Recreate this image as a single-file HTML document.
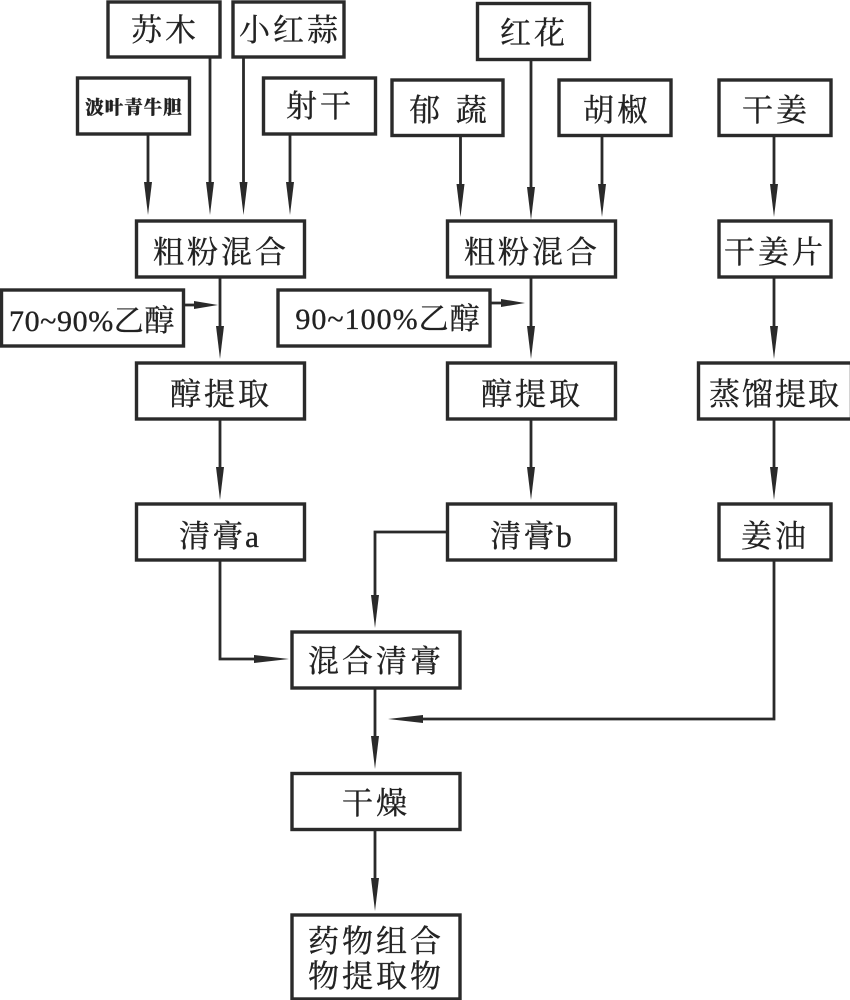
<!DOCTYPE html>
<html>
<head>
<meta charset="utf-8">
<style>
html,body{margin:0;padding:0;background:#fff;width:850px;height:1000px;overflow:hidden}
svg{display:block}
text{font-family:"Liberation Serif","Noto Serif CJK SC",serif;font-size:31px;fill:#222;stroke:#222;stroke-width:.35px;text-anchor:middle;letter-spacing:3px}
rect{fill:#fff;stroke:#2a2a2a;stroke-width:3.4}
.l{fill:none;stroke:#2a2a2a;stroke-width:2.8}
.h{fill:#2a2a2a;stroke:none}
</style>
</head>
<body>
<svg width="850" height="1000" viewBox="0 0 850 1000" xmlns="http://www.w3.org/2000/svg">
<defs>
<polygon id="d" class="h" points="-4,-33 4,-33 0,0"/>
</defs>

<!-- connectors -->
<path class="l" d="M148 134V190M210 57V190M243.5 57V190M290 134V190"/>
<path class="l" d="M460.5 136V190M531 60V195M602 136V190M774 136V190"/>
<path class="l" d="M220 278V335M531 278V335M774 278V335"/>
<path class="l" d="M220 419V470M531 419V470M774 419V470"/>
<path class="l" d="M184 305H200M491 303H505"/>
<path class="l" d="M220 561V659H260"/>
<path class="l" d="M447 532H375V600"/>
<path class="l" d="M774 561V719H420"/>
<path class="l" d="M375 689V740M375 830V880"/>

<!-- arrowheads -->
<use href="#d" x="148" y="215"/><use href="#d" x="210" y="215"/><use href="#d" x="243.5" y="215"/><use href="#d" x="290" y="215"/>
<use href="#d" x="460.5" y="217"/><use href="#d" x="531" y="220"/><use href="#d" x="602" y="217"/><use href="#d" x="774" y="217"/>
<use href="#d" x="220" y="359"/><use href="#d" x="531" y="359"/><use href="#d" x="774" y="359"/>
<use href="#d" x="220" y="500"/><use href="#d" x="531" y="500"/><use href="#d" x="774" y="500"/>
<use href="#d" x="375" y="628"/><use href="#d" x="375" y="769"/><use href="#d" x="375" y="911"/>
<polygon class="h" points="194,301 218,305 194,309"/>
<polygon class="h" points="501,299 525,303 501,307"/>
<polygon class="h" points="254,655 289,659 254,663"/>
<polygon class="h" points="423,715 388,719 423,723"/>

<!-- boxes -->
<rect x="108" y="2" width="112" height="55"/>
<rect x="233" y="2" width="111" height="55"/>
<rect x="77.500" y="78" width="112" height="56"/>
<rect x="263.500" y="78" width="112" height="56"/>
<rect x="392" y="80" width="111" height="55.500"/>
<rect x="477.500" y="3.500" width="112" height="56"/>
<rect x="559" y="80" width="112" height="55.500"/>
<rect x="719" y="80" width="112" height="55.500"/>
<rect x="136.500" y="221" width="168" height="56"/>
<rect x="447.500" y="221" width="168" height="56"/>
<rect x="719" y="221" width="112" height="56"/>
<rect x="1.500" y="290" width="182" height="56"/>
<rect x="278" y="290" width="212" height="56"/>
<rect x="136.500" y="363" width="168" height="56"/>
<rect x="447.500" y="363" width="168" height="56"/>
<rect x="698.500" y="363" width="153" height="56"/>
<rect x="136.500" y="504" width="168" height="56"/>
<rect x="447.500" y="504" width="168" height="56"/>
<rect x="719" y="504" width="112" height="56"/>
<rect x="292" y="632" width="168" height="56"/>
<rect x="292" y="773.500" width="168" height="56"/>
<rect x="292" y="915" width="168" height="84"/>

<!-- labels -->
<text x="165" y="41">苏木</text>
<text x="290" y="41">小红蒜</text>
<text x="134" y="114" style="font-size:18.500px;font-weight:900;letter-spacing:1px;font-family:'Noto Serif CJK SC',serif">波叶青牛胆</text>
<text x="320" y="117">射干</text>
<text x="450" y="121" style="letter-spacing:4px">郁&#160;蔬</text>
<text x="534" y="44">红花</text>
<text x="617" y="121">胡椒</text>
<text x="776" y="121">干姜</text>
<text x="221" y="263">粗粉混合</text>
<text x="532" y="263">粗粉混合</text>
<text x="775" y="263">干姜片</text>
<text x="92" y="331" style="font-size:30px;letter-spacing:.6px">70~90%乙醇</text>
<text x="388" y="329" style="font-size:30px;letter-spacing:1px">90~100%乙醇</text>
<text x="221" y="405">醇提取</text>
<text x="532" y="405">醇提取</text>
<text x="775" y="405" style="letter-spacing:2px">蒸馏提取</text>
<text x="220" y="547" style="letter-spacing:2px">清膏a</text>
<text x="532" y="547" style="letter-spacing:2px">清膏b</text>
<text x="775" y="547">姜油</text>
<text x="376" y="672">混合清膏</text>
<text x="376" y="814">干燥</text>
<text x="376" y="952">药物组合</text>
<text x="376" y="987">物提取物</text>
</svg>
</body>
</html>
